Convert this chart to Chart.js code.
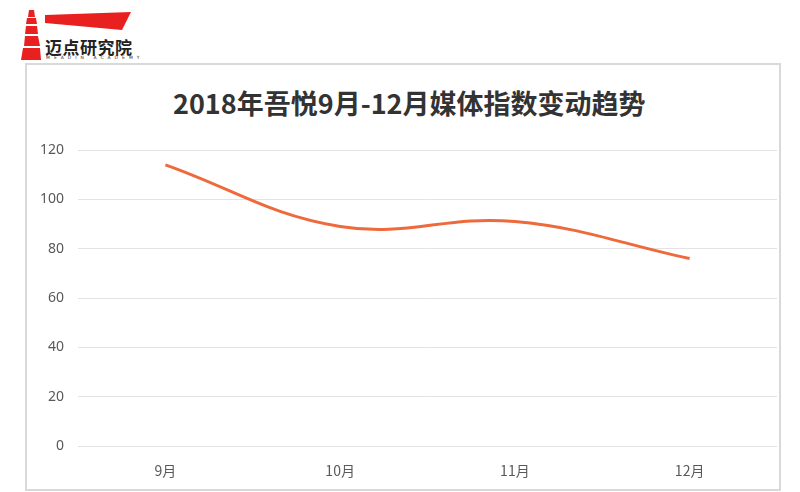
<!DOCTYPE html>
<html>
<head>
<meta charset="utf-8">
<script src="https://cdn.jsdelivr.net/npm/chart.js@4.4.1/dist/chart.umd.min.js"></script>
<style>
  html, body { margin: 0; padding: 0; background: #fff; }
  #wrap { position: relative; width: 800px; height: 492px; overflow: hidden; }
  #frame { position: absolute; left: 25px; top: 63px; width: 752px; height: 424px; border: 2px solid #d9d9d9; }
  #logo { position: absolute; left: 0; top: 0; }
  .brand { position: absolute; left: 45px; top: 34px; font-family: "Noto Sans CJK SC"; font-weight: bold; font-size: 17px; color: #222; letter-spacing: 0.5px; }
  .brand-en { position: absolute; left: 46px; top: 55px; font-family: "DejaVu Sans"; font-size: 4.5px; color: #333; letter-spacing: 4px; }
  .title { position: absolute; left: 173px; top: 88px; font-family: "Noto Sans CJK SC"; font-weight: bold; font-size: 27px; line-height: 30px; color: #333; white-space: nowrap; }
  canvas { position: absolute; left: 0; top: 0; }
</style>
</head>
<body>
<div id="wrap">
  <div id="frame"></div>
  <svg id="logo" width="140" height="62">
    <polygon points="45,15 131,12 122,30 45,23" fill="#e8201f"/>
    <polygon points="29,10 34,10 35,17 28,17" fill="#e8201f"/>
    <polygon points="27,18 36,18 37,24 26,24" fill="#e8201f"/>
    <polygon points="26,26 37,26 38,34 25,34" fill="#e8201f"/>
    <polygon points="25,36 38,36 40,46 24,46" fill="#e8201f"/>
    <polygon points="23,48 40,48 41,60 21,60" fill="#e8201f"/>
  </svg>
  <div class="brand">迈点研究院</div>
  <div class="brand-en">MEADIN ACADEMY</div>
  <div class="title">2018年吾悦9月-12月媒体指数变动趋势</div>
  <canvas id="myChart" width="800" height="492"></canvas>
</div>
<script>
const months = ['9月', '10月', '11月', '12月'];
const mediaIndex = [114, 89, 91, 76];
const yTicks = [0, 20, 40, 60, 80, 100, 120];

document.addEventListener("DOMContentLoaded", function () {
    const ctx = document.getElementById('myChart');
    new Chart(ctx, {
        type: 'line',
        data: {
            labels: months,
            datasets: [{
                label: '媒体指数',
                data: mediaIndex,
                borderColor: '#ee6a3c',
                backgroundColor: '#ee6a3c',
                borderWidth: 3,
                pointRadius: 0,
                tension: 0.4,
                fill: false
            }]
        },
        options: {
            responsive: false,
            animation: false,
            layout: { padding: { left: 30, right: 23, top: 150, bottom: 8 } },
            plugins: {
                legend: { display: false },
                tooltip: { enabled: false },
                title: { display: false }
            },
            scales: {
                x: {
                    offset: true,
                    grid: { display: false },
                    border: { display: false },
                    ticks: {
                        color: '#595959',
                        font: { family: 'Noto Sans CJK SC', size: 14 },
                        padding: 8
                    },
                    afterFit: function (axis) { axis.height = 38; }
                },
                y: {
                    min: 0,
                    max: 120,
                    afterBuildTicks: function (axis) {
                        axis.ticks = yTicks.map(function (v) { return { value: v }; });
                    },
                    grid: { color: '#e3e3e3', lineWidth: 1, drawTicks: false },
                    border: { display: false },
                    ticks: {
                        color: '#595959',
                        font: { family: 'Noto Sans', size: 14 },
                        padding: 14
                    },
                    afterFit: function (axis) { axis.width = 48; }
                }
            }
        }
    });
});
</script>
</body>
</html>
